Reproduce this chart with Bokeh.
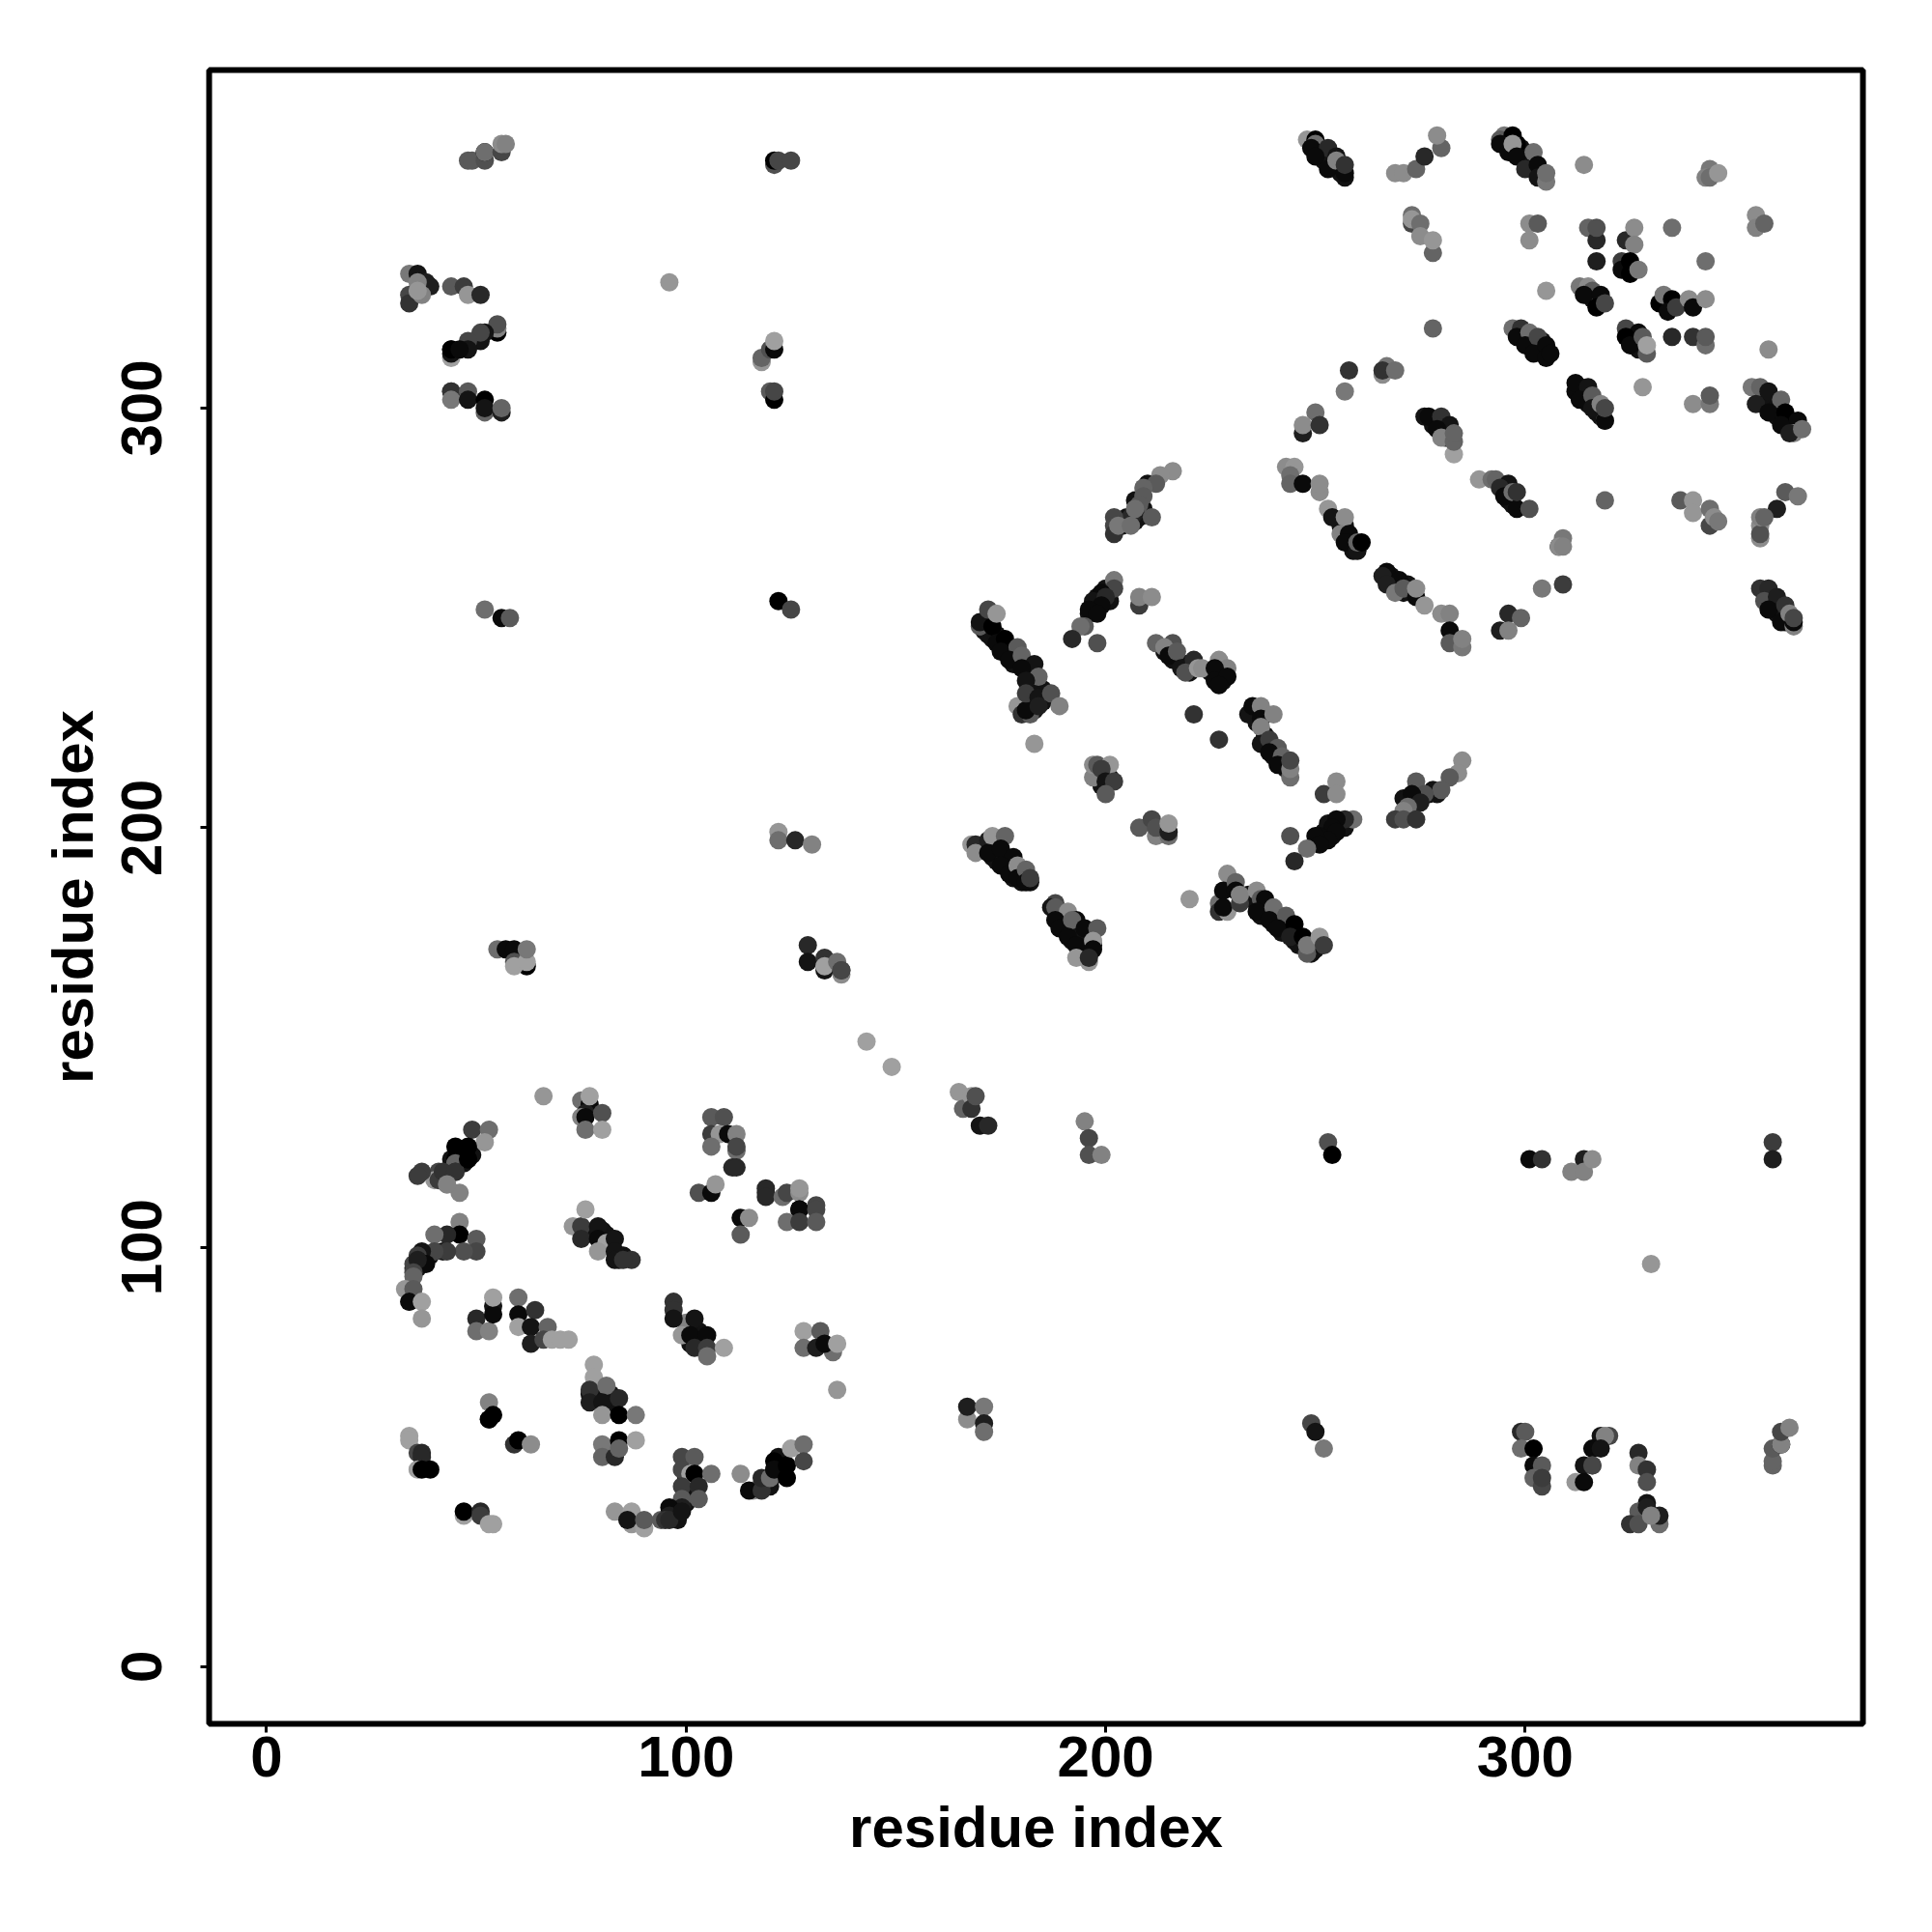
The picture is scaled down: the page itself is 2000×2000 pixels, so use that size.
from bokeh.plotting import figure
from bokeh.models import Range1d, FixedTicker, ColumnDataSource
from bokeh.embed import file_html
from bokeh.resources import INLINE

# darker contacts that sit underneath the strands
z1_i = [249,251,252,253,254,255,256,257,251,252,254,256,295,296,297,298,299,300,301,302,303,304,299,301,315,316,317,318,333,334,335]
z1_j = [363,362,361,360,359,358,357,355,360,359,358,356,364,363,362,361,360,359,358,357,356,355,362,360,327,326,325,326,325,325,324]
z2_i = [298,299,300,301,302,303,304,304,325,326,326,327,327,328,313,313,314,314,315,315,316,317,317,318,318]
z2_j = [318,317,317,316,315,314,314,316,318,317,315,316,314,315,305,303,304,302,303,301,302,301,299,299,298]
z3_i = [356,357,357,359,360,360,361,362,363,364,365,278,279,281,281,282,278,294,295,296,297,296,297]
z3_j = [304,303,301,301,300,298,298,297,296,296,295,297,297,295,293,294,296,282,281,280,279,278,277]
z4_i = [256,257,257,258,259,259,260,256,268,268,269,270,271,272,357,359,359,360,361,362,363,362]
z4_j = [273,272,270,269,268,266,267,272,260,258,259,257,256,258,256,254,252,251,252,250,249,249]
z5_i = [204,205,207,208,209,210,207,201,200,199,198,197,198,201,196]
z5_j = [272,274,273,274,276,282,278,256,257,255,253,252,255,254,251]
z6_i = [171,172,171,172,173,174,175,176,177,178,178,179,180,181,182,183,182,183,184,185,185,186,183,183]
z6_j = [249,248,247,246,245,246,244,243,242,241,239,240,239,238,237,236,235,234,233,233,230,231,230,228]
z7_i = [214,216,217,218,219,220,221,225,226,228,228,227,235,236,236,238,238,239,240,240,242,243,198,199,201,199]
z7_j = [242,240,240,239,239,237,238,237,237,235,237,238,228,226,225,222,220,220,219,217,215,214,213,212,212,210]
z8_i = [271,272,274,275,277,278,279,252,253,254,256,257,255,253,252,170,171,173,174,174,176,176,177,178,178,179,180,180,181,182]
z8_j = [207,207,207,208,208,209,208,199,199,198,201,200,201,201,197,195,195,193,193,192,193,191,191,190,188,190,189,187,188,187]
z9_i = [188,189,190,190,191,191,192,193,194,192,194,195,195,196,196,197,234,235,236,237,238,237,238,240,241,240,242,243,242,244,245,245,246,246,247,248,249,250,250,251]
z9_j = [180,179,179,177,178,176,176,175,175,173,173,172,174,172,171,172,184,183,182,181,181,179,179,178,179,177,178,176,175,176,175,173,174,172,172,171,170,171,173,172]
z10_i = [36,37,36,35,39,42,44,46,47,47,49,45,78,80,81,82,82,85,84,77,78,79,82,82,100,101,103,103,104,101,97,98,97,98,100,100,100,119,120,122,123,122,122,123]
z10_j = [96,97,95,95,98,99,121,122,123,120,122,122,103,104,103,100,102,98,97,65,64,65,65,62,80,81,80,78,77,77,37,38,36,35,39,42,45,44,43,46,47,48,50,48]

# lower-left domain (i<140, j<175)
a_i = [55,57,59,59,62,59,62,62,129,129,133,133,133,136,137,137,137,143,149,66]
a_j = [171,171,171,168,167,167,168,171,172,168,169,166,167,168,165,166,166,149,143,136]
a_s = [110,10,10,80,0,160,160,120,40,20,50,20,160,110,140,70,70,160,160,150]

b_i = [75,77,76,75,76,77,80,76,80,106,109,106,108,110,112,106,112,112,111,112]
b_j = [135,134,132,131,131,136,132,128,128,131,131,127,127,127,127,124,123,124,119,119]
b_s = [110,10,30,130,10,160,80,110,160,90,80,60,150,10,130,110,110,70,40,40]

c_i = [103,106,107,119,119,119,123,124,127,127,127,131,127,131,124,127,131,113,115,113]
c_j = [113,113,115,113,114,112,112,113,113,114,109,110,109,109,106,106,106,107,107,103]
c_s = [80,10,150,40,40,40,110,70,140,150,10,70,10,70,110,60,90,10,140,90]

d_i = [49,53,52,45,48,48,45,45,45,41,41,43,46,40,41,42,45,48,43,37,36]
d_j = [128,128,125,124,124,121,121,120,118,118,116,115,113,116,116,118,118,121,115,118,117]
d_s = [60,110,150,0,0,0,0,100,50,70,160,130,130,150,60,50,50,0,130,60,60]

e_i = [46,46,43,40,50,50,47,43,40,37,36,38,35,36,35,35,33,35,34,34,37,37]
e_j = [106,103,103,103,102,99,99,99,99,99,98,96,96,97,94,93,90,90,87,87,87,83]
e_s = [130,0,40,110,90,70,80,60,70,20,60,10,70,30,70,100,150,90,130,10,160,150]

f_i = [50,50,53,54,54,54,60,60,60,64,63,67,63,66,68,70,72]
f_j = [83,80,80,86,84,88,88,84,81,85,81,81,77,78,78,78,78]
f_s = [40,110,130,20,10,160,110,10,160,50,20,100,30,70,160,160,160]

g_i = [73,75,75,79,79,81,79,83,83,83,87,85,76,100,97,97,97,102,99,101,105,102,105,105,109]
g_j = [105,105,102,105,102,101,99,102,99,97,97,97,109,82,87,85,83,83,79,79,79,76,76,74,76]
g_s = [150,60,40,20,10,160,150,20,20,20,50,50,160,130,50,50,20,20,150,10,10,40,60,110,160]

h_i = [128,132,128,131,135,133,136,136,53,53,54,53,78,78,77,81,77,80,84,80,84,88]
h_j = [80,80,76,76,75,77,77,66,63,59,60,59,72,69,66,67,63,63,64,60,60,60]
h_s = [160,90,110,30,110,10,160,150,130,80,0,0,160,160,50,110,30,20,40,150,0,120]

k_i = [59,60,63,34,34,36,37,37,36,37,39,47,47,51,51,54,53]
k_j = [53,54,53,55,54,51,51,50,47,47,47,36,37,37,36,34,34]
k_s = [50,0,140,160,160,70,40,40,160,0,0,160,0,40,60,160,160]

m_i = [80,84,88,80,83,84,99,102,99,101,102,106,99,103,103,99,99,94,96,96,95,96,99]
m_j = [53,54,54,50,50,52,50,50,47,46,46,46,43,43,40,40,38,35,38,36,35,35,37]
m_s = [120,0,160,100,40,100,70,90,70,160,0,110,60,40,90,90,30,90,10,30,50,40,20]

n_i = [83,87,87,86,90,90,113,116,115,118,118,120,121,121,124,124,125,128,128]
n_j = [37,34,37,35,33,35,46,42,42,42,45,45,49,47,48,45,52,53,49]
n_s = [150,150,160,20,160,90,140,140,10,50,40,110,0,10,0,0,160,110,70]

# upper-left contacts
p_i = [48,49,52,52,52,56,56,57,121,121,122,125,96,34,36,38,39,36,34,34,37,36]
p_j = [359,359,359,361,361,361,363,363,358,359,359,359,330,332,332,330,329,330,327,325,327,328]
p_s = [90,90,80,0,110,70,140,130,80,0,70,70,150,120,20,30,30,130,70,50,130,150]

q_i = [44,47,48,51,55,55,55,52,51,51,48,48,44,44,44,44,46]
q_j = [329,329,327,327,318,319,320,318,316,318,316,314,312,314,313,314,314]
q_s = [90,60,150,40,0,130,80,20,20,70,70,20,160,10,20,0,10]

r_i = [44,44,44,48,48,52,52,52,56,56,118,118,120,121,121,120,121,121]
r_j = [304,304,302,304,302,302,299,300,299,300,311,312,314,314,316,304,302,304]
r_s = [70,50,120,90,20,0,100,20,30,100,150,100,80,10,160,90,0,70]

# isolated contacts in the upper-left and lower-right
t_i = [52,56,58,122,125,122,122,126,130,253,254,195,196,196,199,301,304,314,311,314,316,359,359]
t_j = [252,250,250,254,252,199,197,197,196,125,122,130,126,122,122,121,121,121,118,118,121,125,121]
t_s = [110,10,90,0,70,150,110,40,130,80,0,130,70,80,130,10,50,30,130,130,140,60,30]

u_i = [330,165,166,168,168,169,170,172,167,167,171,171,171,249,250,252]
u_j = [96,137,133,136,133,136,129,129,59,62,62,58,56,58,56,52]
u_s = [150,150,100,150,50,80,20,40,140,30,120,30,110,70,20,120]

v_i = [299,300,299,302,302,304,302,304,304,318,320,319,316,318,316,314,316,312,314]
v_j = [56,56,52,52,48,48,45,43,45,55,55,55,52,52,48,48,48,44,44]
v_s = [40,90,110,0,10,90,100,70,60,20,70,130,10,20,70,20,70,150,10]

w_i = [327,327,329,329,329,327,325,327,329,332,332,330,359,359,359,361,361,361,363]
w_j = [51,48,47,44,39,37,34,34,38,34,36,36,48,49,52,53,53,56,57]
w_s = [40,130,50,80,20,90,50,80,30,110,30,130,100,100,90,10,130,70,130]

# upper-right domain
aa_i = [248,250,250,249,253,250,255,253,255,257,257,269,271,274,276,280,279]
aa_j = [364,364,363,362,362,360,360,357,359,356,358,356,356,357,360,362,365]
aa_s = [150,0,110,10,40,10,20,10,130,10,50,140,140,100,40,100,140]

ab_i = [295,294,297,294,298,296,297,298,302,300,303,303,305,305,314,344,343,344,346]
ab_j = [365,364,365,363,363,361,363,360,361,357,358,355,354,356,358,357,355,355,356]
ab_s = [120,90,0,10,0,10,150,10,110,40,10,20,120,110,140,120,130,110,150]

ac_i = [273,273,273,275,275,278,278,301,303,301,315,317,317,317,324,326,326]
ac_j = [344,346,345,344,341,337,340,344,344,340,343,340,343,335,340,343,339]
ac_s = [70,110,150,110,140,100,150,140,90,140,100,40,80,30,40,140,130]

ad_i = [323,323,325,325,327,335,343,305,355,355,357]
ad_j = [335,333,335,332,333,343,335,328,346,343,344]
ad_s = [60,10,0,0,120,110,110,150,140,130,100]

ae_i = [313,315,316,314,318,317,319,332,333,335,334,336,339,340,343]
ae_j = [329,329,328,327,327,324,325,325,327,326,323,324,326,324,326]
ae_s = [120,140,90,10,10,0,70,0,120,0,10,60,140,10,140]

af_i = [278,297,299,298,301,300,303,302,305,305,306]
af_j = [319,319,319,317,318,315,317,313,315,312,313]
af_s = [100,110,50,10,110,10,70,10,10,10,10]

ag_i = [324,327,324,325,328,329,329,335,340,343,343,358]
ag_j = [319,318,317,315,317,313,315,317,317,315,317,314]
ag_s = [70,10,0,10,90,90,160,40,50,110,90,140]

ah_i = [258,257,266,267,266,269,312,312,315,313,316,316,318,319,319,319,328,340,344,344]
ah_j = [309,304,308,310,309,309,304,306,305,302,303,300,301,297,297,300,305,301,301,303]
ah_s = [50,120,140,120,50,110,10,10,20,10,90,20,130,110,10,70,150,140,120,90]

ai_i = [354,356,358,355,361,358,362,361,365,364,363,366]
ai_j = [305,305,304,301,302,299,299,296,297,294,294,295]
ai_s = [120,100,20,30,100,10,0,10,10,130,30,110]

aj_i = [250,247,247,251,276,277,280,282,279,280,283,283,283]
aj_j = [299,294,296,296,298,298,298,296,295,293,289,292,294]
aj_s = [110,30,140,50,20,10,50,20,10,130,160,100,100]

ak_i = [243,245,244,244,247,251,251,253,254,257,256,258,257,260,260,261]
ak_j = [286,286,284,282,282,280,282,276,274,274,270,270,268,266,268,268]
ak_s = [140,150,110,100,10,140,140,150,20,140,130,10,10,20,100,0]

am_i = [267,266,270,267,269,271,274,274,276,280,282,282,282,285,285]
am_j = [261,260,259,258,256,257,255,257,253,251,251,247,244,243,245]
am_s = [10,30,10,30,120,90,10,140,150,140,130,10,90,120,130]

an_i = [289,292,293,296,294,295,297,298,298,301]
an_j = [283,283,283,282,281,279,280,276,280,276]
an_s = [150,110,100,20,40,10,110,10,50,80]

ao_i = [296,299,294,296,304,309,308,309,308,309,319]
ao_j = [251,250,247,247,257,258,267,269,267,267,278]
ao_s = [40,100,30,130,120,60,20,120,140,130,100]

ap_i = [337,340,340,344,345,344,345,346,362,365,360,356,356,356,356,357]
ap_j = [278,278,275,276,273,272,274,273,280,279,276,269,272,270,274,274]
ap_s = [90,150,150,110,70,70,140,120,90,120,30,140,140,80,130,100]

aq_i = [356,358,357,360,358,362,361,364,363,364,364]
aq_j = [257,257,254,255,252,253,249,248,251,249,250]
aq_s = [50,40,80,30,10,50,10,130,130,10,70]

# central helices
ba_i = [216,213,212,209,209,208,207,211,206,202,202,202,203,206,207]
ba_j = [285,284,282,281,279,277,275,274,274,274,272,270,272,272,276]
ba_s = [140,140,90,100,90,90,30,90,40,70,70,50,120,110,110]

bb_i = [202,202,199,197,200,199,196,198,195,194,192,198,208,208,211]
bb_j = [259,257,256,254,255,253,252,251,248,248,245,244,253,255,255]
bb_s = [120,70,10,20,40,10,10,10,90,110,40,80,60,130,140]

bc_i = [170,170,173,172,174,176,175,179,177,180,183,180,184,181]
bc_j = [248,249,248,252,244,245,242,243,240,241,239,238,236,235]
bc_s = [90,20,0,70,10,0,10,90,10,100,20,10,100,20]

bd_i = [174,179,180,182,181,181,184,184,187,189,183]
bd_j = [251,229,227,227,228,232,231,229,232,229,220]
bd_s = [150,150,50,90,10,60,20,30,80,130,150]

be_i = [212,216,214,215,217,218,221,219,222,223,227,229,226,226,229,227,221,227]
be_j = [244,244,243,241,242,238,240,237,238,238,240,238,238,235,236,234,227,221]
be_s = [100,80,130,10,90,20,40,80,150,140,140,130,10,10,10,10,50,50]

bf_i = [234,235,237,237,240,237,237,239,241,239,242,241,244,244,244]
bf_j = [227,229,229,226,227,224,220,221,219,218,217,215,212,214,216]
bf_s = [20,10,130,10,130,130,20,60,90,10,100,10,110,130,70]

bg_i = [197,197,198,201,199,200,202,200,252,255,255]
bg_j = [212,215,215,215,214,211,211,208,208,211,208]
bg_s = [130,140,90,150,60,20,60,90,60,140,140]

bh_i = [285,284,282,280,274,276,273,275,272,271,269,271,274]
bh_j = [216,213,212,209,211,208,208,206,205,204,202,202,202]
bh_s = [140,140,90,90,90,80,10,30,110,130,60,80,50]

bi_i = [259,257,255,254,255,251,253,250,251,244,248,245]
bi_j = [202,202,202,200,199,198,197,198,196,198,195,192]
bi_s = [110,40,10,10,10,10,10,10,10,80,110,40]

bj_i = [208,212,215,211,212,215,215]
bj_j = [200,198,198,202,200,199,201]
bj_s = [90,130,110,70,80,30,150]

bk_i = [168,169,169,172,173,176,172,175,178,175,177,179,179,181,181,182]
bk_j = [196,196,194,197,198,198,194,195,193,191,189,191,188,190,187,188]
bk_s = [150,40,140,30,150,100,10,10,10,10,10,140,10,100,10,60]

bl_i = [188,187,188,191,188,189,193,192,195,191,193,198,197,197,196,193,196]
bl_j = [182,181,181,180,178,176,178,178,176,174,172,176,173,171,168,169,169]
bl_s = [70,20,90,140,10,10,10,100,10,10,10,90,150,10,150,150,40]

bm_i = [220,229,227,227,229,228,228,231,231,232,232,236,237,238,236,240,239,243,241,245,244,247,249,248,248,251,252]
bm_j = [183,189,182,180,180,185,181,187,185,182,184,185,183,183,180,181,178,179,176,177,174,174,172,170,172,174,172]
bm_s = [150,140,110,50,150,10,10,100,10,60,130,140,90,10,10,110,10,90,10,0,30,0,0,90,120,150,60]

under_i = z1_i + z2_i + z3_i + z4_i + z5_i + z6_i + z7_i + z8_i + z9_i + z10_i
under_j = z1_j + z2_j + z3_j + z4_j + z5_j + z6_j + z7_j + z8_j + z9_j + z10_j
under_grey = 18

groups_i = [a_i,b_i,c_i,d_i,e_i,f_i,g_i,h_i,k_i,m_i,n_i,p_i,q_i,r_i,t_i,u_i,v_i,w_i,
            aa_i,ab_i,ac_i,ad_i,ae_i,af_i,ag_i,ah_i,ai_i,aj_i,ak_i,am_i,an_i,ao_i,ap_i,aq_i,
            ba_i,bb_i,bc_i,bd_i,be_i,bf_i,bg_i,bh_i,bi_i,bj_i,bk_i,bl_i,bm_i]
groups_j = [a_j,b_j,c_j,d_j,e_j,f_j,g_j,h_j,k_j,m_j,n_j,p_j,q_j,r_j,t_j,u_j,v_j,w_j,
            aa_j,ab_j,ac_j,ad_j,ae_j,af_j,ag_j,ah_j,ai_j,aj_j,ak_j,am_j,an_j,ao_j,ap_j,aq_j,
            ba_j,bb_j,bc_j,bd_j,be_j,bf_j,bg_j,bh_j,bi_j,bj_j,bk_j,bl_j,bm_j]
groups_s = [a_s,b_s,c_s,d_s,e_s,f_s,g_s,h_s,k_s,m_s,n_s,p_s,q_s,r_s,t_s,u_s,v_s,w_s,
            aa_s,ab_s,ac_s,ad_s,ae_s,af_s,ag_s,ah_s,ai_s,aj_s,ak_s,am_s,an_s,ao_s,ap_s,aq_s,
            ba_s,bb_s,bc_s,bd_s,be_s,bf_s,bg_s,bh_s,bi_s,bj_s,bk_s,bl_s,bm_s]

n_under = min(len(under_i), len(under_j))
xs = list(under_i[:n_under])
ys = list(under_j[:n_under])
colors = ["#%02x%02x%02x" % (under_grey, under_grey, under_grey)] * n_under
for gi, gj, gs in zip(groups_i, groups_j, groups_s):
    n = min(len(gi), len(gj), len(gs))
    xs += gi[:n]
    ys += gj[:n]
    colors += ["#%02x%02x%02x" % (s, s, s) for s in gs[:n]]

tick_vals = [0, 100, 200, 300]
axis_title = "residue index"

p = figure(frame_width=1712, frame_height=1712, output_backend="svg", toolbar_location=None,
           x_range=Range1d(-13.7, 380.5), y_range=Range1d(-13.6, 380.6),
           min_border_left=216, min_border_right=64, min_border_top=72, min_border_bottom=208)
p.grid.visible = False
p.outline_line_color = "black"
p.outline_line_width = 6
p.background_fill_color = "white"
p.border_fill_color = "white"

src = ColumnDataSource(dict(x=xs, y=ys, c=colors))
p.scatter("x", "y", source=src, size=19, color="c", line_color=None, marker="circle")

for ax in (p.xaxis[0], p.yaxis[0]):
    ax.ticker = FixedTicker(ticks=tick_vals)
    ax.axis_line_color = None
    ax.major_tick_in = 0
    ax.major_tick_out = 9
    ax.major_tick_line_width = 3
    ax.major_tick_line_color = "black"
    ax.minor_tick_line_color = None
    ax.major_label_text_font = "Liberation Sans"
    ax.major_label_text_font_style = "bold"
    ax.major_label_text_font_size = "60px"
    ax.major_label_text_color = "black"
    ax.axis_label = axis_title
    ax.axis_label_text_font = "Liberation Sans"
    ax.axis_label_text_font_style = "bold"
    ax.axis_label_text_font_size = "60px"
    ax.axis_label_text_color = "black"
p.yaxis[0].major_label_orientation = "vertical"
p.xaxis[0].major_label_standoff = 4
p.yaxis[0].major_label_standoff = 40
p.xaxis[0].axis_label_standoff = 16
p.yaxis[0].axis_label_standoff = 15

open("out.html", "w").write(file_html(p, INLINE))
